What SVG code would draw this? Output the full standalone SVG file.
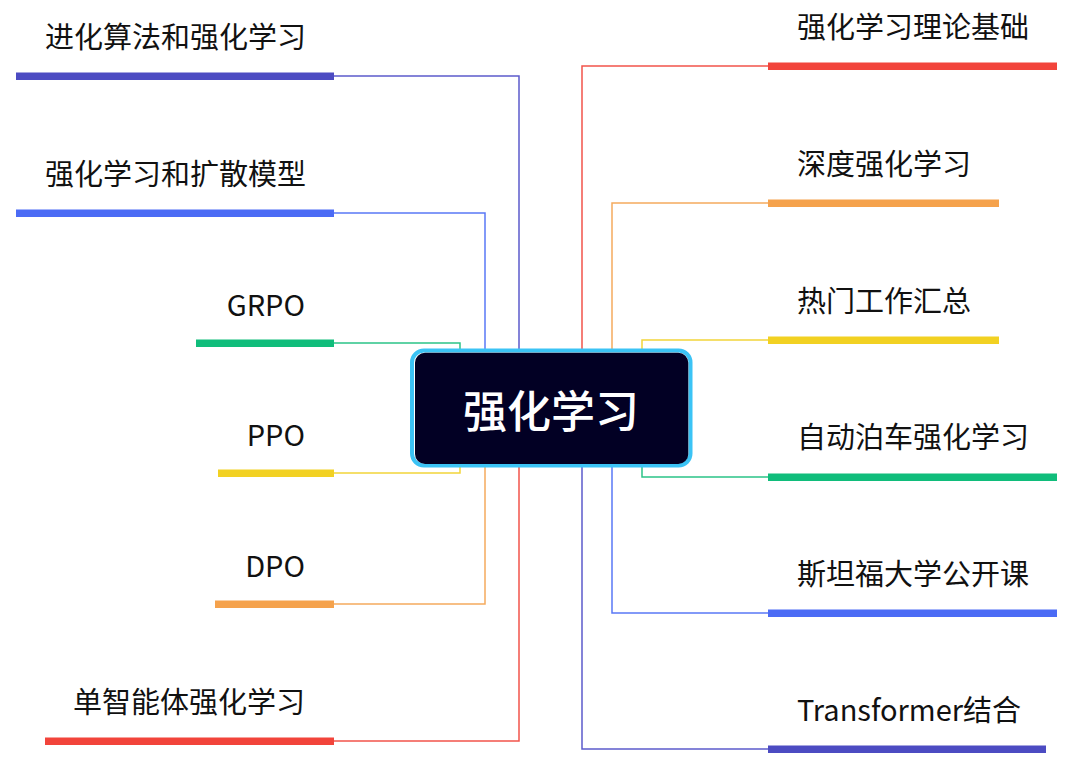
<svg xmlns="http://www.w3.org/2000/svg" width="1080" height="767" viewBox="0 0 1080 767">
<style>
.t{font-family:"Noto Sans CJK SC","Noto Sans",sans-serif;font-size:29px;fill:#111}
.l{text-anchor:end}
.c{fill:none;stroke-width:1.5}
.indigo{fill:#4c4bc2}.blue{fill:#4b6bf5}.green{fill:#10bd7b}.yellow{fill:#f2d122}.orange{fill:#f5a24c}.red{fill:#f2443b}
.si{stroke:#5c5bcc}.sb{stroke:#5a78f6}.sg{stroke:#2bc488}.sy{stroke:#f2d53a}.so{stroke:#f5aa5e}.sr{stroke:#f2544b}
</style>
<rect width="1080" height="767" fill="#fff"/>
<g id="connectors">
<path class="c si" d="M334 76H519V410"/>
<path class="c sb" d="M334 213H485V410"/>
<path class="c sg" d="M334 343H460V410"/>
<path class="c sy" d="M334 473H460V410"/>
<path class="c so" d="M334 604H485V410"/>
<path class="c sr" d="M334 741H519V410"/>
<path class="c sr" d="M768 66H582V410"/>
<path class="c so" d="M768 203H612V410"/>
<path class="c sy" d="M768 340H642V410"/>
<path class="c sg" d="M768 477H642V410"/>
<path class="c sb" d="M768 613H612V410"/>
<path class="c si" d="M768 749H582V410"/>
</g>
<g id="center">
<rect x="412" y="350.5" width="278.5" height="115" rx="12" fill="#fff" stroke="#3bc3f5" stroke-width="4"/>
<rect x="415" y="352.7" width="273.3" height="111.3" rx="10" fill="#020024"/>
<text x="551" y="428" text-anchor="middle" style="font-family:'Noto Sans CJK SC','Noto Sans',sans-serif;font-size:44px;font-weight:500;fill:#fff">强化学习</text>
</g>
<g id="n-left1"><rect class="indigo" x="16" y="72.5" width="318" height="7.5"/><text class="t l" x="306" y="48">进化算法和强化学习</text></g>
<g id="n-left2"><rect class="blue" x="16" y="209.5" width="318" height="7.5"/><text class="t l" x="306" y="185">强化学习和扩散模型</text></g>
<g id="n-left3"><rect class="green" x="196" y="339.5" width="138" height="7.5"/><text class="t l" x="305" y="316">GRPO</text></g>
<g id="n-left4"><rect class="yellow" x="218" y="469.5" width="116" height="7.5"/><text class="t l" x="305" y="446">PPO</text></g>
<g id="n-left5"><rect class="orange" x="215" y="600.5" width="119" height="7.5"/><text class="t l" x="305" y="577">DPO</text></g>
<g id="n-left6"><rect class="red" x="45" y="737.5" width="289" height="7.5"/><text class="t l" x="305" y="713">单智能体强化学习</text></g>
<g id="n-right1"><rect class="red" x="768" y="62.5" width="289" height="7.5"/><text class="t" x="797" y="38">强化学习理论基础</text></g>
<g id="n-right2"><rect class="orange" x="768" y="199.5" width="231" height="7.5"/><text class="t" x="797" y="175">深度强化学习</text></g>
<g id="n-right3"><rect class="yellow" x="768" y="336.5" width="231" height="7.5"/><text class="t" x="797" y="312">热门工作汇总</text></g>
<g id="n-right4"><rect class="green" x="768" y="473.5" width="289" height="7.5"/><text class="t" x="797" y="448">自动泊车强化学习</text></g>
<g id="n-right5"><rect class="blue" x="768" y="609.5" width="289" height="7.5"/><text class="t" x="797" y="585">斯坦福大学公开课</text></g>
<g id="n-right6"><rect class="indigo" x="768" y="745.5" width="278" height="7.5"/><text class="t" x="797" y="721">Transformer结合</text></g>
</svg>
